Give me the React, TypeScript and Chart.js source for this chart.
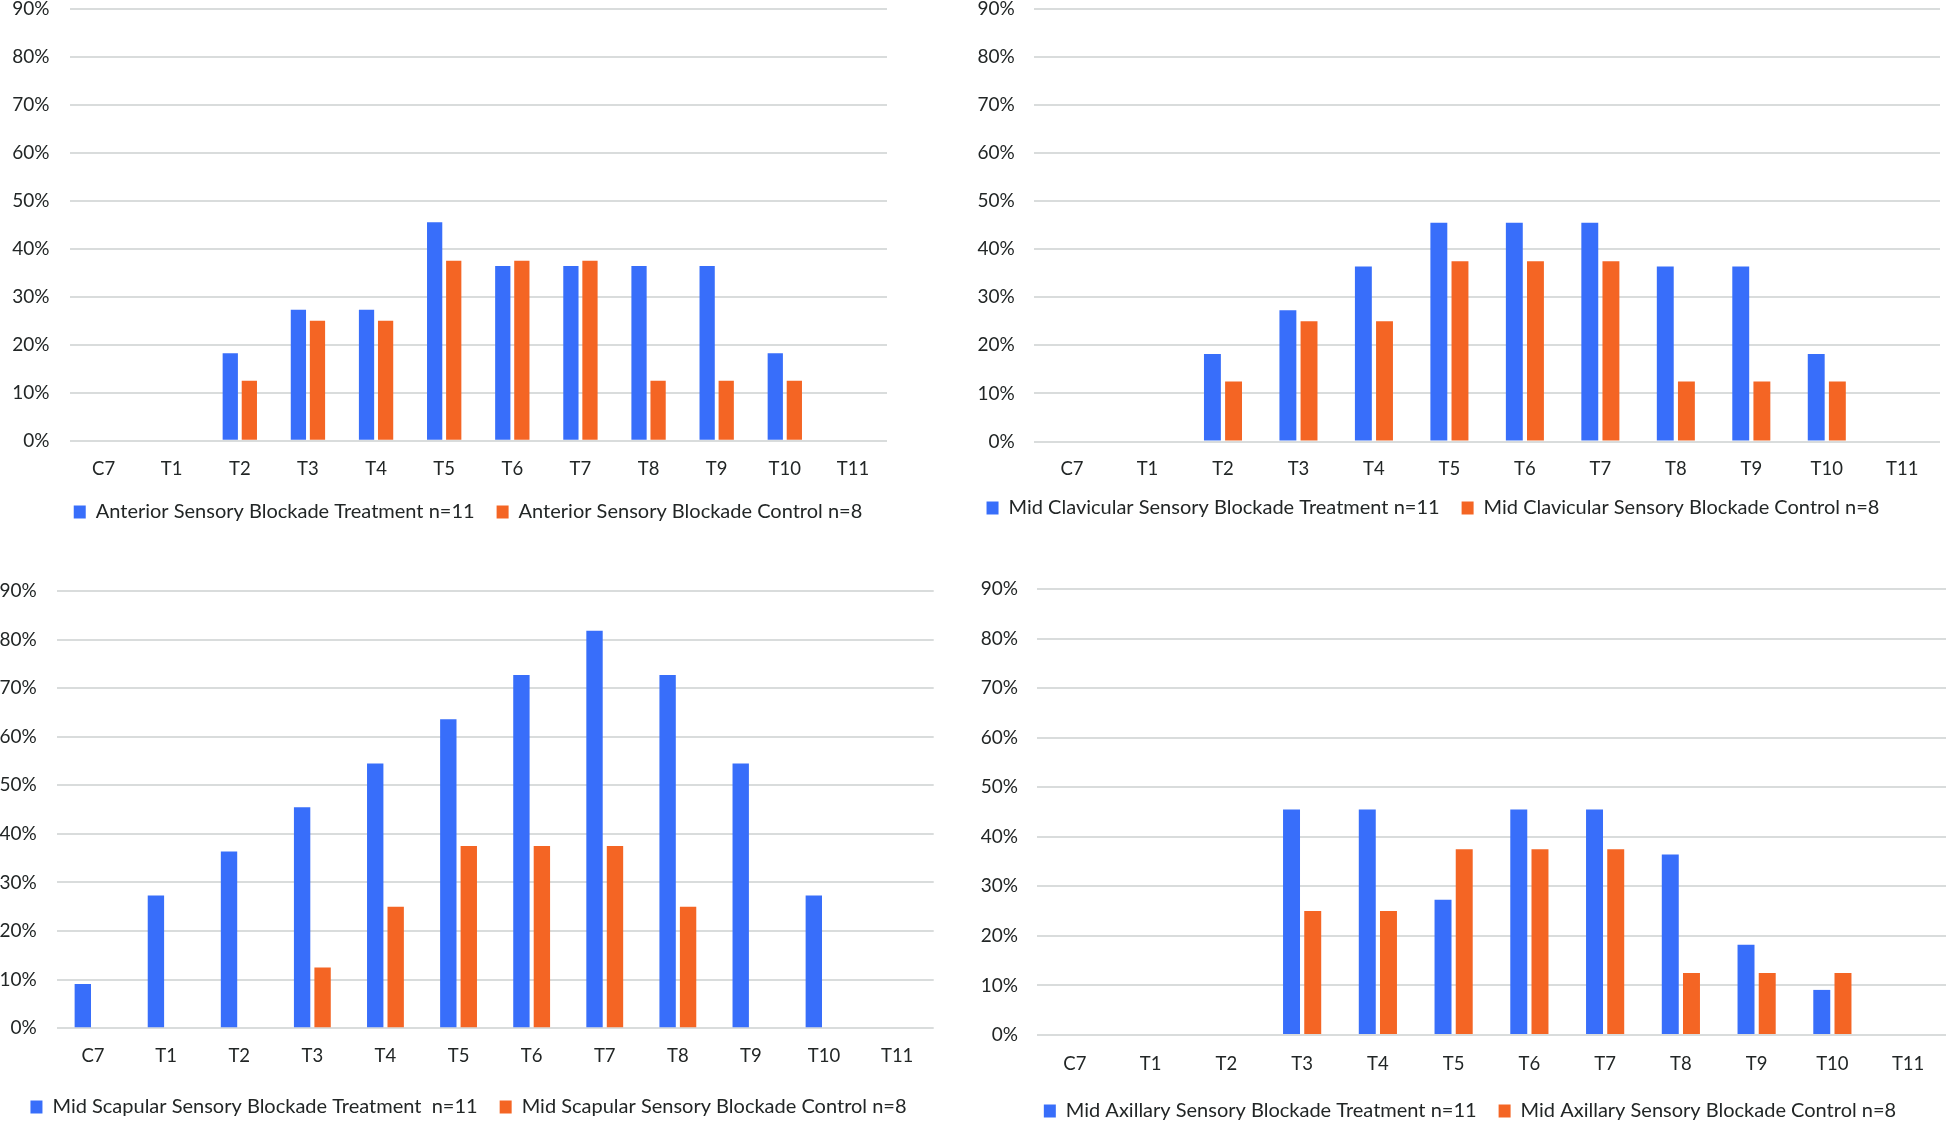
import React, { useEffect, useRef } from "react";
import { Chart, registerables } from "chart.js";

Chart.register(...registerables);

// ---------- DATA ----------
const categories = ["C7", "T1", "T2", "T3", "T4", "T5", "T6", "T7", "T8", "T9", "T10", "T11"];

const anteriorTreatment = [0, 0, 18.2, 27.3, 27.3, 45.5, 36.4, 36.4, 36.4, 36.4, 18.2, 0];
const anteriorControl = [0, 0, 12.5, 25, 25, 37.5, 37.5, 37.5, 12.5, 12.5, 12.5, 0];

const clavicularTreatment = [0, 0, 18.2, 27.3, 36.4, 45.5, 45.5, 45.5, 36.4, 36.4, 18.2, 0];
const clavicularControl = [0, 0, 12.5, 25, 25, 37.5, 37.5, 37.5, 12.5, 12.5, 12.5, 0];

const scapularTreatment = [9.1, 27.3, 36.4, 45.5, 54.5, 63.6, 72.7, 81.8, 72.7, 54.5, 27.3, 0];
const scapularControl = [0, 0, 0, 12.5, 25, 37.5, 37.5, 37.5, 25, 0, 0, 0];

const axillaryTreatment = [0, 0, 0, 45.5, 45.5, 27.3, 45.5, 45.5, 36.4, 18.2, 9.1, 0];
const axillaryControl = [0, 0, 0, 25, 25, 37.5, 37.5, 37.5, 12.5, 12.5, 12.5, 0];

const yMin = 0;
const yMax = 90;
const yStep = 10;

// ---------- STYLE ----------
const BLUE = "#386EFA";
const ORANGE = "#F46524";
const GRID = "#d9dcdc";
const TEXT = "#222626";
const FONT = "Lato, 'Open Sans', sans-serif";
const Y_SIZE = 19;
const X_SIZE = 18.5;
const LEGEND_SIZE = 20;
const LEGEND_GAP = 22;

type Geo = {
  canvasLeft: number;
  plotLeft: number;
  plotRight: number;
  plotTop: number;
  plotBottom: number;
  yLabelRight: number;
  xLabelY: number;
  legendY: number;
  legendCenter: number;
};

const geoTL: Geo = { canvasLeft: 0, plotLeft: 69.5, plotRight: 887, plotTop: 8.7, plotBottom: 440.7, yLabelRight: 49.5, xLabelY: 469.5, legendY: 512, legendCenter: 468 };
const geoTR: Geo = { canvasLeft: 900, plotLeft: 1034.3, plotRight: 1940, plotTop: 8.6, plotBottom: 441.5, yLabelRight: 1014.7, xLabelY: 469, legendY: 508, legendCenter: 1433 };
const geoBL: Geo = { canvasLeft: 0, plotLeft: 56.5, plotRight: 933.7, plotTop: 591, plotBottom: 1028.2, yLabelRight: 36.7, xLabelY: 1056.4, legendY: 1107, legendCenter: 468.4 };
const geoBR: Geo = { canvasLeft: 960, plotLeft: 1037, plotRight: 1946, plotTop: 589, plotBottom: 1035, yLabelRight: 1018, xLabelY: 1063.6, legendY: 1111, legendCenter: 1470 };

type PanelProps = {
  geo: Geo;
  treatLabel: string;
  ctrlLabel: string;
  treatment: number[];
  control: number[];
};

function BarPanel({ geo, treatLabel, ctrlLabel, treatment, control }: PanelProps) {
  const ref = useRef<HTMLCanvasElement>(null);

  // top padding must exceed the y-scale's own label padding (half line + tick padding)
  const canvasTop = Math.floor(geo.plotTop - 50);
  const padTop = geo.plotTop - canvasTop;
  const canvasLeft = geo.canvasLeft;
  const canvasRight = Math.round(2 * geo.legendCenter - canvasLeft);
  const yW = geo.plotLeft - canvasLeft;
  const rightGap = Math.max(0, canvasRight - geo.plotRight);
  const canvasBottom = Math.ceil(geo.legendY + LEGEND_SIZE / 2 + 10);
  const padBottom = canvasBottom - (geo.legendY + LEGEND_SIZE / 2 + 10);
  const xH = geo.legendY - LEGEND_SIZE / 2 - LEGEND_GAP - geo.plotBottom;
  const xTickPad = geo.xLabelY - geo.plotBottom - 0.6 * X_SIZE;
  const yTickPad = geo.plotLeft - geo.yLabelRight;
  const W = canvasRight - canvasLeft;
  const H = canvasBottom - canvasTop;

  useEffect(() => {
    if (!ref.current) return;
    const chart = new Chart(ref.current, {
      type: "bar",
      data: {
        labels: categories,
        datasets: [
          { label: treatLabel, data: treatment, backgroundColor: BLUE, borderWidth: 0, yAxisID: "y" },
          { label: ctrlLabel, data: control, backgroundColor: ORANGE, borderWidth: 0, yAxisID: "y" },
        ],
      },
      options: {
        responsive: false,
        animation: false,
        devicePixelRatio: 1,
        datasets: { bar: { categoryPercentage: 0.56, barPercentage: 0.8 } },
        layout: { padding: { top: padTop, left: 0, right: 0, bottom: padBottom } },
        plugins: {
          tooltip: { enabled: false },
          title: { display: false },
          legend: {
            position: "bottom",
            align: "center",
            labels: {
              boxWidth: 12,
              boxHeight: 13,
              padding: LEGEND_GAP,
              color: TEXT,
              font: { family: FONT, size: LEGEND_SIZE },
            },
          },
        },
        scales: {
          x: {
            type: "category",
            offset: true,
            grid: { display: false, drawTicks: false },
            border: { display: false },
            ticks: {
              color: TEXT,
              font: { family: FONT, size: X_SIZE },
              padding: xTickPad,
              maxRotation: 0,
              autoSkip: false,
            },
            afterFit: (s: any) => {
              s.height = xH;
            },
          },
          y: {
            position: "left",
            min: yMin,
            max: yMax,
            grid: { color: GRID, lineWidth: 2, drawTicks: false },
            border: { display: false },
            ticks: {
              stepSize: yStep,
              color: TEXT,
              font: { family: FONT, size: Y_SIZE },
              padding: yTickPad,
              callback: (v: any) => `${v}%`,
            },
            afterFit: (s: any) => {
              s.width = yW;
            },
          },
          yRightSpace: {
            position: "right",
            display: true,
            grid: { display: false, drawTicks: false },
            border: { display: false },
            ticks: { display: false },
            afterFit: (s: any) => {
              s.width = rightGap;
            },
          },
        },
      },
    });
    return () => chart.destroy();
  }, []);

  return (
    <canvas
      ref={ref}
      width={W}
      height={H}
      style={{ position: "absolute", left: canvasLeft, top: canvasTop, width: W, height: H }}
    />
  );
}

export default function App() {
  return (
    <div
      style={{
        position: "absolute",
        left: 0,
        top: 0,
        width: 1946,
        height: 1122,
        overflow: "hidden",
        background: "#ffffff",
      }}
    >
      <BarPanel
        geo={geoTL}
        treatLabel="Anterior Sensory Blockade Treatment n=11"
        ctrlLabel="Anterior Sensory Blockade Control n=8"
        treatment={anteriorTreatment}
        control={anteriorControl}
      />
      <BarPanel
        geo={geoTR}
        treatLabel="Mid Clavicular Sensory Blockade Treatment n=11"
        ctrlLabel="Mid Clavicular Sensory Blockade Control n=8"
        treatment={clavicularTreatment}
        control={clavicularControl}
      />
      <BarPanel
        geo={geoBL}
        treatLabel="Mid Scapular Sensory Blockade Treatment  n=11"
        ctrlLabel="Mid Scapular Sensory Blockade Control n=8"
        treatment={scapularTreatment}
        control={scapularControl}
      />
      <BarPanel
        geo={geoBR}
        treatLabel="Mid Axillary Sensory Blockade Treatment n=11"
        ctrlLabel="Mid Axillary Sensory Blockade Control n=8"
        treatment={axillaryTreatment}
        control={axillaryControl}
      />
    </div>
  );
}
